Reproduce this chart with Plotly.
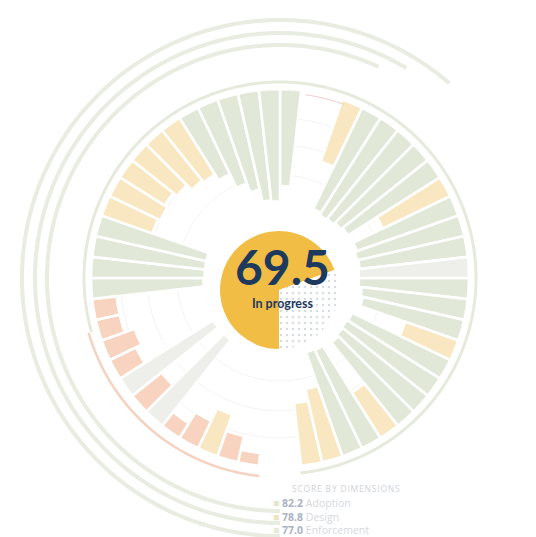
import numpy as np
import plotly.graph_objects as go

# ---------------- data ----------------
N_SLOTS = 56
# score (0-100) for each slot going clockwise from 12 o'clock; None = no control
scores = [83, None, None, 56, 96, 98, 97, 95, 93, 64,
          92, 94, 93, 94, 94, 91, 89, 48, 93, 94,
          93, 91, 46, 93, 94, 64, 54, None, None, 11,
          23, 38, 26, 15, 94, 32, 94, 25, 30, 21,
          21, 96, 97, 97, 97, 46, 48, 45, 49, 55,
          57, 63, 76, 84, 95, 96]
status = ["Implemented", None, None, "In progress", "Implemented", "Implemented", "Implemented", "Implemented", "Implemented", "In progress",
          "Implemented", "Implemented", "Implemented", "N/A", "Implemented", "Implemented", "Implemented", "In progress", "Implemented", "Implemented",
          "Implemented", "Implemented", "In progress", "Implemented", "Implemented", "In progress", "In progress", None, None, "Not started",
          "Not started", "In progress", "Not started", "Not started", "N/A", "Not started", "N/A", "Not started", "Not started", "Not started",
          "Not started", "Implemented", "Implemented", "Implemented", "Implemented", "In progress", "In progress", "In progress", "In progress", "In progress",
          "In progress", "Implemented", "Implemented", "Implemented", "Implemented", "Implemented"]

overall_score = 69.5
overall_label = "In progress"
dimension_names = ["Adoption", "Design", "Enforcement"]
dimension_scores = [82.2, 78.8, 77.0]

# ---------------- styling ----------------
STATUS_COLORS = {
    "Implemented": "#e1e8d8",
    "In progress": "#f8e7c0",
    "Not started": "#f7d3c0",
    "N/A": "#eeeeea",
}
DIM_COLORS = ["#e4e6c9", "#ece4c4", "#e6ead9"]
R_OUT = 189      # outer edge of bars (px-units on radial axis)
R_FULL = 72      # inner edge for a score of 100
SLOT_DEG = 360 / N_SLOTS

fig = go.Figure()

# bars, one trace per status
for st, col in STATUS_COLORS.items():
    th, rr, bb = [], [], []
    for k, (s, stt) in enumerate(zip(scores, status)):
        if s is None or stt != st:
            continue
        inner = R_OUT - s / 100 * (R_OUT - R_FULL)
        th.append((k + 0.5) * SLOT_DEG)
        bb.append(inner)
        rr.append(R_OUT - inner)
    fig.add_trace(go.Barpolar(
        theta=th, r=rr, base=bb, width=SLOT_DEG,
        marker=dict(color=col, line=dict(color="white", width=2.6)),
        name=st, showlegend=False, hoverinfo="skip"))


def arc(r, t0, t1, color, width):
    t = np.linspace(t0, t1, 240)
    fig.add_trace(go.Scatterpolar(
        theta=t, r=np.full_like(t, r), mode="lines",
        line=dict(color=color, width=width),
        showlegend=False, hoverinfo="skip"))


# inner ring (green) and the salmon "not started" arc
arc(196, 254, 360 + 174, "#e5eadd", 3)
arc(199, 186, 254, "#f5d2bf", 2.5)
# three outer dimension arcs
arc(233, 180, 360 + 25, "#e9ece1", 4)
arc(245, 180, 360 + 31, "#e9ece1", 4)
arc(258, 180, 360 + 41, "#e9ece1", 4)
# thin red tick in the top gap
arc(185, 8, 20, "#ebbcbc", 1)

fig.update_layout(
    width=536, height=537,
    margin=dict(l=0, r=0, t=0, b=0),
    paper_bgcolor="white",
    polar=dict(
        domain=dict(x=[8 / 536, 1.0], y=[3 / 537, 531 / 537]),
        bgcolor="rgba(0,0,0,0)",
        bargap=0,
        radialaxis=dict(range=[0, 264], showticklabels=False, ticks="",
                        showline=False, tickvals=[103, 133, 160],
                        gridcolor="#f4f4f4", gridwidth=1),
        angularaxis=dict(rotation=90, direction="clockwise", showgrid=False,
                         showticklabels=False, ticks="", showline=False),
    ),
)

# centre pie
fig.add_trace(go.Pie(
    values=[overall_score, 100 - overall_score],
    marker=dict(colors=["#f1bd45", "white"],
                pattern=dict(shape=["", "."], fgcolor="#d6dbe2", size=6, solidity=0.12)),
    direction="clockwise", rotation=180, sort=False,
    textinfo="none", hoverinfo="skip", showlegend=False,
    domain=dict(x=[212 / 536, 330 / 536], y=[1 - 341 / 537, 1 - 223 / 537]),
))

# centre text (one annotation, two lines)
fig.add_annotation(
    x=274 / 536, y=1 - 305 / 537, xref="paper", yref="paper",
    xanchor="center", yanchor="bottom", align="center",
    text=(f"<span style='font-size:48px'><b>{overall_score}</b></span><br>"
          f"<span style='font-size:12.5px'><b>{overall_label}</b></span>"),
    showarrow=False, font=dict(family="Lato", size=17.7, color="#1d3a5e"))

# legend text
fig.add_annotation(x=282 / 536, y=1 - 488 / 537, xref="paper", yref="paper",
                   xanchor="left", align="left",
                   text="<span style='letter-spacing:0.8px'>SCORE BY DIMENSIONS</span>",
                   showarrow=False,
                   font=dict(family="Open Sans", size=8.5, color="#cfd3d9"))
for i, (nm, sc) in enumerate(zip(dimension_names, dimension_scores)):
    fig.add_annotation(
        x=263 / 536, y=1 - (504 + i * 13.5) / 537, xref="paper", yref="paper",
        xanchor="left", align="left",
        text=f"<span style='color:{DIM_COLORS[i]}'>■</span> <b>{sc:.1f}</b> <span style='color:#d5d8dd'>{nm}</span>",
        showarrow=False, font=dict(family="Open Sans", size=10.5, color="#aab3c4"))

fig.write_html("out.html")
